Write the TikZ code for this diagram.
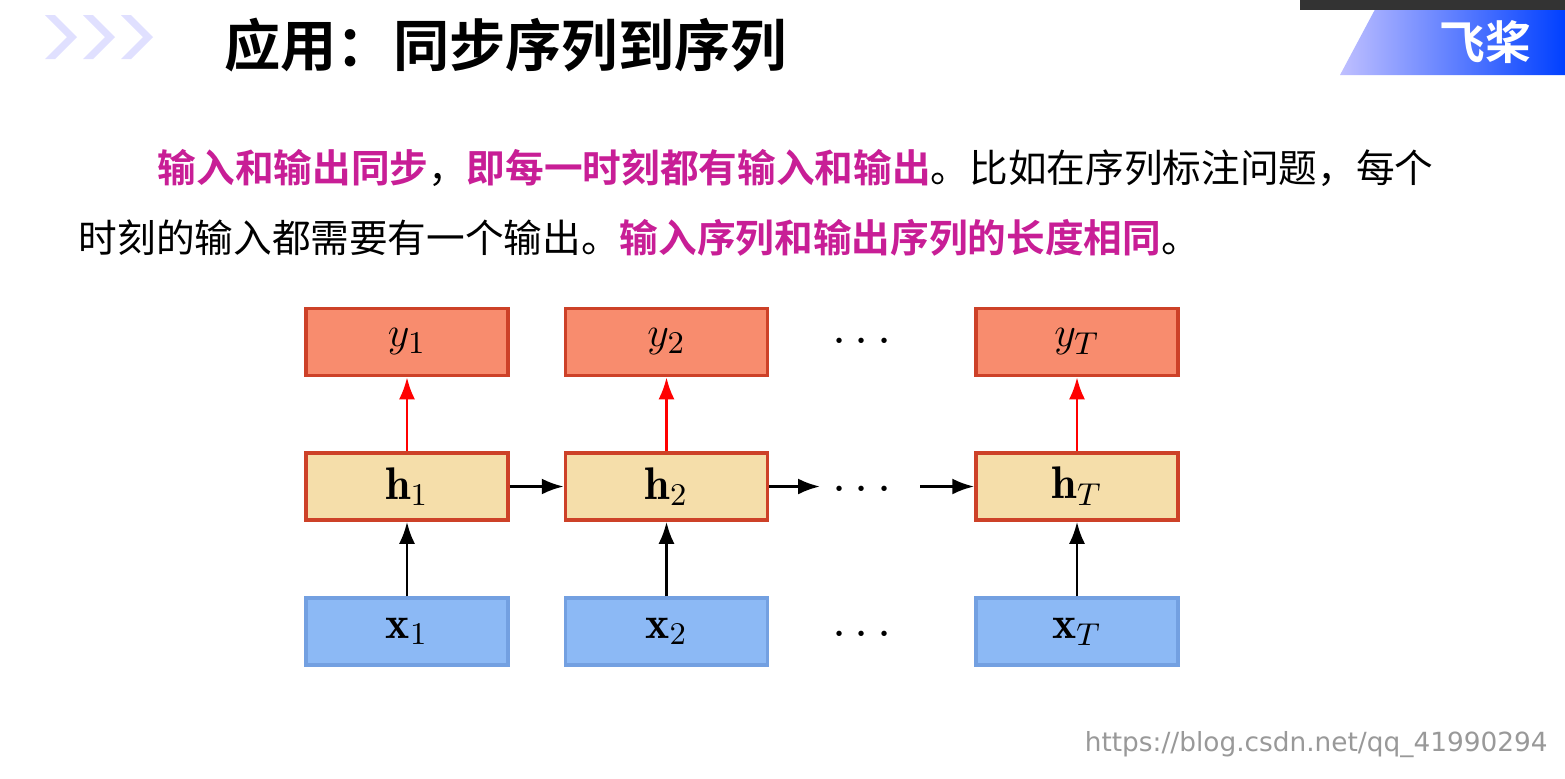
\documentclass[tikz,border=0pt]{standalone}
\usepackage{fontspec}
\usepackage{amsmath}
\newfontfamily\cjk{Noto Sans CJK SC}
\newfontfamily\cjkb{Noto Sans CJK SC Bold}
\newfontfamily\markfont{DejaVu Sans}
\usetikzlibrary{arrows.meta}
\definecolor{hilite}{RGB}{200,30,150}
\definecolor{yfill}{RGB}{248,140,110}
\definecolor{hfill}{RGB}{245,222,170}
\definecolor{xfill}{RGB}{140,185,245}
\definecolor{boxred}{RGB}{205,65,40}
\definecolor{xline}{RGB}{115,160,225}
\tikzset{
  cell/.style={draw, line width=1pt, minimum width=2.02cm, minimum height=0.67cm, inner sep=0pt, font=\fontsize{13}{13}\selectfont},
  ybox/.style={cell, fill=yfill, draw=boxred},
  hbox/.style={cell, fill=hfill, draw=boxred},
  xbox/.style={cell, fill=xfill, draw=xline},
  flow/.style={-{Latex[length=2.2mm,width=1.6mm]}, line width=0.8pt},
}
\begin{document}
\begin{tikzpicture}
\useasboundingbox (0,0) rectangle (15.65,7.78);
\fill[white] (0,0) rectangle (15.65,7.78);

% header decorations
\foreach \i in {0,1,2}
  \fill[blue!12, shift={(0.45+0.38*\i,0)}] (0,7.63) -- (0.22,7.41) -- (0,7.19) -- (0.1,7.19) -- (0.32,7.41) -- (0.1,7.63) -- cycle;
\shade[left color=blue!25, right color=blue!75!cyan] (13.8,7.78) -- (15.65,7.78) -- (15.65,7.03) -- (13.4,7.03) -- cycle;
\fill[black!80] (13.0,7.78) rectangle (15.65,7.68);
\node[text=white, font=\cjkb\fontsize{13}{13}\selectfont] (logo) at (14.85,7.36) {飞桨};

% title and text
\node[anchor=west, font=\cjkb\fontsize{16}{16}\selectfont] (title) at (2.12,7.33) {应用：同步序列到序列};
\node[anchor=west, font=\cjk\fontsize{11}{11}\selectfont, inner sep=0pt] (line1) at (1.57,6.1)
  {\textcolor{hilite}{\cjkb 输入和输出同步}，\textcolor{hilite}{\cjkb 即每一时刻都有输入和输出}。比如在序列标注问题，每个};
\node[anchor=west, font=\cjk\fontsize{11}{11}\selectfont, inner sep=0pt] (line2) at (0.78,5.4)
  {时刻的输入都需要有一个输出。\textcolor{hilite}{\cjkb 输入序列和输出序列的长度相同}。};

% network
\node[ybox] (y1) at (4.07,4.36) {$y_1$};
\node[ybox] (y2) at (6.665,4.36) {$y_2$};
\node[ybox] (yT) at (10.77,4.36) {$y_T$};
\node[hbox] (h1) at (4.07,2.915) {$\mathbf{h}_1$};
\node[hbox] (h2) at (6.665,2.915) {$\mathbf{h}_2$};
\node[hbox] (hT) at (10.77,2.915) {$\mathbf{h}_T$};
\node[xbox] (x1) at (4.07,1.465) {$\mathbf{x}_1$};
\node[xbox] (x2) at (6.665,1.465) {$\mathbf{x}_2$};
\node[xbox] (xT) at (10.77,1.465) {$\mathbf{x}_T$};

\node[font=\Large] (ydots) at (8.66,4.36) {$\cdots$};
\node[font=\Large] (hdots) at (8.66,2.88) {$\cdots$};
\node[font=\Large] (xdots) at (8.66,1.43) {$\cdots$};
\coordinate (hin) at (8.2,2.915);
\coordinate (hout) at (9.2,2.915);

\foreach \t in {1,2,T} {
  \draw[flow] (x\t) -- (h\t);
  \draw[flow, red] (h\t) -- (y\t);
}
\draw[flow] (h1) -- (h2);
\draw[flow] (h2) -- (hin);
\draw[flow] (hout) -- (hT);

\node[anchor=south east, text=black!40, font=\markfont\fontsize{7.5}{7.5}\selectfont] (mark) at (15.6,0.08) {https://blog.csdn.net/qq\_41990294};
\end{tikzpicture}
\end{document}
